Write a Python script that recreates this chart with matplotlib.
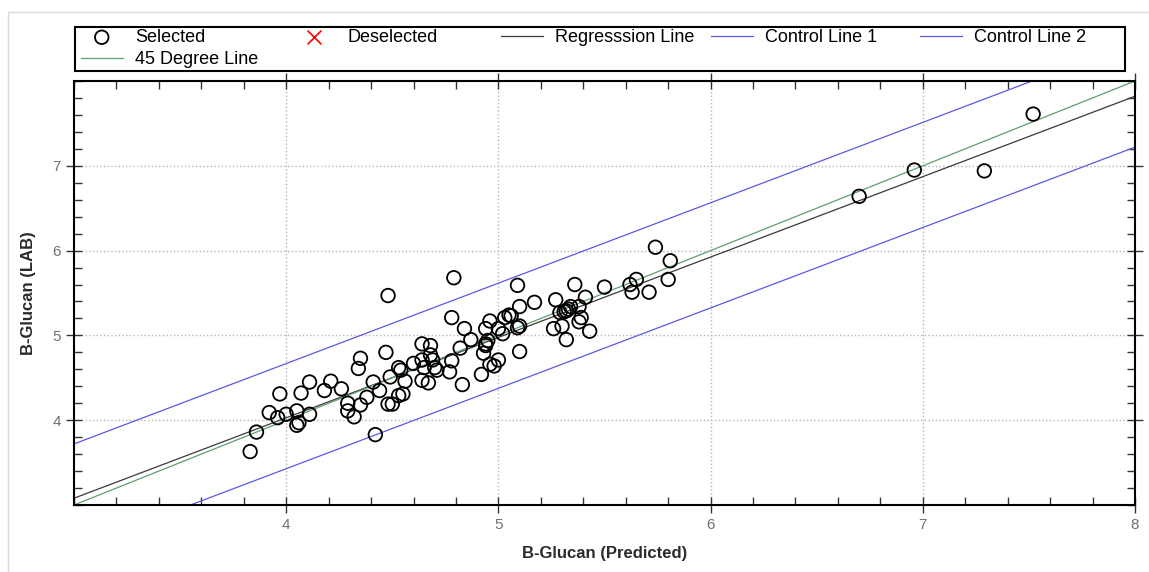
import numpy as np
import matplotlib.pyplot as plt
from matplotlib.patches import Rectangle
from matplotlib.ticker import MultipleLocator

plt.rcParams['font.family'] = ['Liberation Sans', 'DejaVu Sans']

# Данные: предсказанные и лабораторные значения B-Glucan
x_pred = [3.83, 3.86, 3.92, 3.96, 3.97, 4.00, 4.05, 4.06, 4.05, 4.07,
          4.11, 4.11, 4.18, 4.21, 4.26, 4.29, 4.29, 4.32, 4.35, 4.34,
          4.35, 4.38, 4.41, 4.42, 4.44, 4.47, 4.48, 4.48, 4.50, 4.49,
          4.53, 4.54, 4.53, 4.55, 4.56, 4.60, 4.64, 4.64, 4.68, 4.64,
          4.67, 4.69, 4.68, 4.70, 4.71, 4.65, 4.77, 4.78, 4.78, 4.79,
          4.83, 4.82, 4.84, 4.87,
          4.92, 4.93, 4.94, 4.95, 4.94, 4.94, 4.96, 4.96, 4.98, 5.00,
          5.00, 5.02, 5.03, 5.05, 5.06, 5.09, 5.10, 5.09, 5.10, 5.10,
          5.17, 5.26, 5.27, 5.29, 5.30, 5.31, 5.32, 5.33, 5.32, 5.34,
          5.36, 5.38, 5.39, 5.38, 5.41, 5.43, 5.50, 5.62, 5.63, 5.65,
          5.71, 5.74, 5.81, 5.80,
          6.70, 6.96, 7.29, 7.52]
y_lab = [3.63, 3.86, 4.09, 4.03, 4.31, 4.07, 3.94, 3.97, 4.11, 4.32,
         4.45, 4.07, 4.35, 4.46, 4.37, 4.20, 4.11, 4.04, 4.18, 4.61,
         4.73, 4.27, 4.45, 3.83, 4.35, 4.80, 5.47, 4.19, 4.19, 4.51,
         4.62, 4.59, 4.29, 4.31, 4.46, 4.67, 4.47, 4.90, 4.88, 4.71,
         4.44, 4.71, 4.77, 4.62, 4.59, 4.62, 4.57, 4.70, 5.21, 5.68,
         4.42, 4.85, 5.08, 4.95,
         4.54, 4.79, 4.90, 4.94, 4.88, 5.08, 5.17, 4.66, 4.64, 4.71,
         5.08, 5.02, 5.21, 5.24, 5.23, 5.59, 5.34, 5.09, 5.11, 4.81,
         5.39, 5.08, 5.42, 5.27, 5.11, 5.28, 5.29, 5.31, 4.95, 5.34,
         5.60, 5.16, 5.21, 5.34, 5.45, 5.05, 5.57, 5.60, 5.51, 5.66,
         5.51, 6.04, 5.88, 5.66,
         6.64, 6.95, 6.94, 7.61]

# Параметры линий
reg_slope = 0.948
reg_intercept = 0.236
ctrl_upper = 0.64    # смещение верхней контрольной линии
ctrl_lower = -0.60   # смещение нижней контрольной линии
x_range = [3, 8]

W, H = 1149, 572
fig = plt.figure(figsize=(W / 100, H / 100), dpi=100)
ax = fig.add_axes([74 / W, 1 - 505 / H, (1135 - 74) / W, (505 - 81) / H])

xl = np.array(x_range, dtype=float)
sel = ax.scatter(x_pred, y_lab, s=95, facecolors='none', edgecolors='black',
                 linewidths=1.3, label='Selected', zorder=3)
desel = ax.scatter([], [], s=100, marker='x', color='red', linewidths=1.2,
                   label='Deselected')
reg, = ax.plot(xl, reg_slope * xl + reg_intercept, color='#3a3a3a', lw=0.9,
               label='Regresssion Line')
c1, = ax.plot(xl, reg_slope * xl + reg_intercept + ctrl_upper, color='#5a5ae6',
              lw=0.9, label='Control Line 1')
c2, = ax.plot(xl, reg_slope * xl + reg_intercept + ctrl_lower, color='#5a5ae6',
              lw=0.9, label='Control Line 2')
deg, = ax.plot(xl, xl, color='#5f9e6e', lw=0.9, label='45 Degree Line')

ax.set_xlim(3, 8)
ax.set_ylim(3, 8)
ax.xaxis.set_minor_locator(MultipleLocator(0.2))
ax.yaxis.set_minor_locator(MultipleLocator(0.2))
ax.set_xticks([4, 5, 6, 7, 8])
ax.set_yticks([4, 5, 6, 7])
ax.tick_params(which='major', direction='inout', length=12, width=1,
               top=True, right=True, labelsize=11, labelcolor='#707070',
               color='#333333')
ax.tick_params(which='minor', direction='in', length=6, width=1,
               top=True, right=True, color='#333333')
ax.grid(True, which='major', linestyle=':', color='#b5b5b5', lw=1)
for s in ax.spines.values():
    s.set_linewidth(1.5)

ax.set_xlabel('B-Glucan (Predicted)', fontsize=12, fontweight='bold',
              color='#2a2a2a', labelpad=10)
ax.set_ylabel('B-Glucan (LAB)', fontsize=12, fontweight='bold',
              color='#2a2a2a', labelpad=12)

# Легенда: пять колонок с фиксированным шагом
columns = [[sel, deg], [desel], [reg], [c1], [c2]]
col_x = [81, 293, 501, 711, 920]
for hs, cx in zip(columns, col_x):
    fig.legend(handles=hs, loc='upper left',
               bbox_to_anchor=(cx / W, 1 - 29 / H), frameon=False,
               borderpad=0, borderaxespad=0, handlelength=2.3,
               handletextpad=0.7, labelspacing=0.3, fontsize=13,
               scatterpoints=1)

fig.add_artist(Rectangle((75 / W, 1 - 71 / H), (1125 - 75) / W, 44 / H,
                         transform=fig.transFigure, fill=False,
                         edgecolor='black', lw=1.5))
fig.add_artist(Rectangle((8 / W, -0.1), 1.2, 1.1 - 12 / H,
                         transform=fig.transFigure, fill=False,
                         edgecolor='#d9d9d9', lw=1))

fig.savefig('out.png', dpi=100)
